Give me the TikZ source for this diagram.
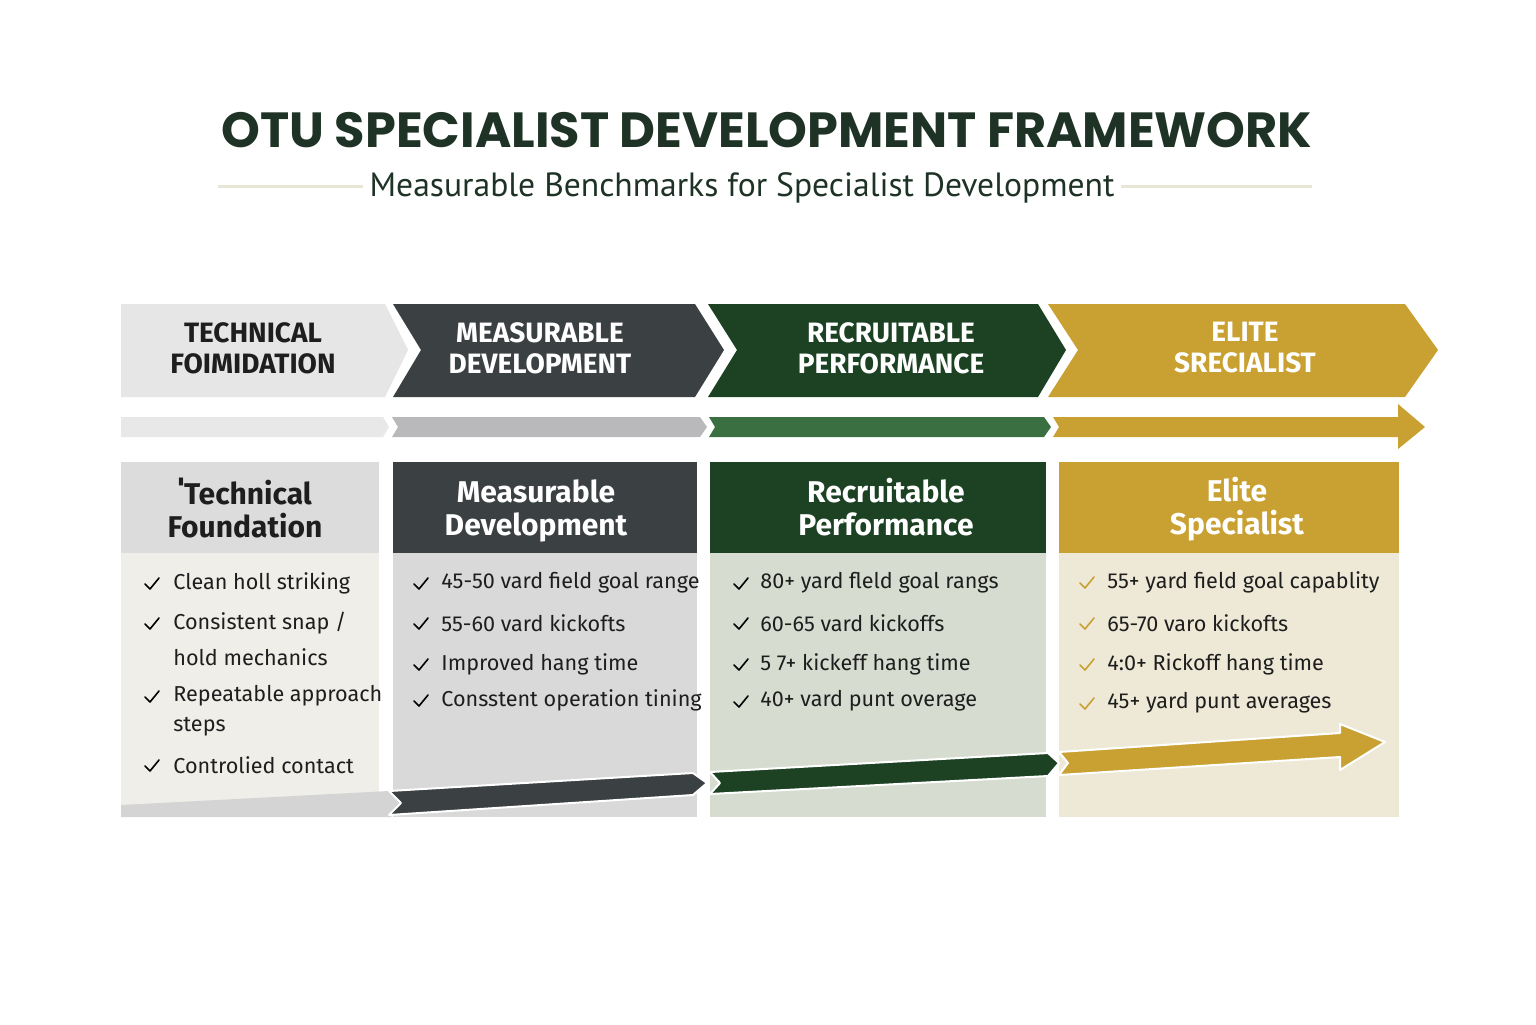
\documentclass[tikz,border=0pt]{standalone}
\usepackage{fontspec}
\setmainfont{Fira Sans}
\newfontfamily\titlefont{Poppins}
\newfontfamily\subfont{PT Sans}
\usepackage{xcolor}
\definecolor{titleink}{HTML}{1E3325}
\definecolor{slate}{HTML}{3B4042}
\definecolor{pine}{HTML}{1C4223}
\definecolor{gold}{HTML}{C9A032}
\definecolor{fog}{HTML}{E6E6E6}
\definecolor{barfog}{HTML}{E8E8E8}
\definecolor{bargray}{HTML}{B9B9BB}
\definecolor{bargreen}{HTML}{3A7041}
\definecolor{headfog}{HTML}{DCDCDC}
\definecolor{bodyfog}{HTML}{EFEEE9}
\definecolor{bodygray}{HTML}{D9D9D9}
\definecolor{bodysage}{HTML}{D6DDD0}
\definecolor{bodycream}{HTML}{EEE9D7}
\definecolor{bandfog}{HTML}{D4D4D4}
\definecolor{rule}{HTML}{E9E6D6}
\definecolor{ink}{HTML}{1E1E1E}

\begin{document}
\begin{tikzpicture}[x=0.5pt, y=-0.5pt,
    chevtext/.style={font=\bfseries\fontsize{14}{15.5}\selectfont, align=center},
    headtext/.style={font=\bfseries\fontsize{15}{16.5}\selectfont, align=center},
    item/.style={anchor=west, font=\fontsize{10.8}{13}\selectfont, text=ink, inner sep=0pt},
    ribbon/.style={draw=white, line width=1pt, line join=round},
    tick/.pic={\draw[line width=0.8pt, line cap=round, line join=round] (-7,0) -- (-2,5) -- (7,-6);}
    ]
    \useasboundingbox (0,0) rectangle (1536,1024);
    \fill[white] (0,0) rectangle (1536,1024);

    % title
    \node (title) at (767,130) {\titlefont\bfseries\fontsize{24.7}{28}\selectfont\color{titleink}OTU SPECIALIST DEVELOPMENT FRAMEWORK};
    \node (subtitle) at (742,188) {\subfont\fontsize{16.8}{20}\selectfont\color{titleink}Measurable Benchmarks for Specialist Development};
    \coordinate (rl) at (218,186);
    \coordinate (rr) at (1312,186);
    \draw[rule, line width=1.5pt] (rl) -- (subtitle.west |- rl);
    \draw[rule, line width=1.5pt] (subtitle.east |- rr) -- (rr);

    % top chevrons
    \fill[fog] (121,304) -- (385,304) -- (408,350) -- (385,397) -- (121,397) -- cycle;
    \fill[slate] (393,304) -- (695,304) -- (724,350) -- (695,397) -- (393,397) -- (421,350) -- cycle;
    \fill[pine] (708,304) -- (1038,304) -- (1066,350) -- (1038,397) -- (708,397) -- (737,350) -- cycle;
    \fill[gold] (1048,304) -- (1405,304) -- (1438,350) -- (1405,397) -- (1048,397) -- (1078,350) -- cycle;
    \node[chevtext, text=ink] (c1) at (253,348) {TECHNICAL\\FOIMIDATION};
    \node[chevtext, text=white] (c2) at (540,348) {MEASURABLE\\DEVELOPMENT};
    \node[chevtext, text=white] (c3) at (891,348) {RECRUITABLE\\PERFORMANCE};
    \node[chevtext, text=white] (c4) at (1245,348) {ELITE\\SRECIALIST};

    % progress bar
    \fill[barfog] (121,417) -- (383,417) -- (389,427) -- (383,437) -- (121,437) -- cycle;
    \fill[bargray] (392,417) -- (700,417) -- (707,427) -- (700,437) -- (392,437) -- (398,427) -- cycle;
    \fill[bargreen] (709,417) -- (1044,417) -- (1051,427) -- (1044,437) -- (709,437) -- (715,427) -- cycle;
    \fill[gold] (1053,417) -- (1398,417) -- (1398,404) -- (1425,427) -- (1398,449) -- (1398,437)
        -- (1053,437) -- (1059,427) -- cycle;

    % columns
    \fill[bodyfog] (121,553) rectangle (379,817);
    \fill[headfog] (121,462) rectangle (379,553);
    \fill[bodygray] (393,553) rectangle (697,817);
    \fill[slate] (393,462) rectangle (697,553);
    \fill[bodysage] (710,553) rectangle (1046,817);
    \fill[pine] (710,462) rectangle (1046,553);
    \fill[bodycream] (1059,553) rectangle (1399,817);
    \fill[gold] (1059,462) rectangle (1399,553);

    \node[headtext, text=ink] (h1) at (245,508) {ˈTechnical\\Foundation};
    \node[headtext, text=white] (h2) at (536,511) {Measurable\\Development};
    \node[headtext, text=white] (h3) at (886,507) {Recruitable\\Performance};
    \node[headtext, text=white] (h4) at (1237,509) {Elite\\Specialist};

    % checklist items
    \pic at (152,584) {tick};
    \node[item] (tf1) at (173,583) {Clean holl striking};
    \pic at (152,624) {tick};
    \node[item] (tf2) at (173,623) {Consistent snap /};
    \node[item] (tf3) at (173,657) {hold mechanics};
    \pic at (152,697) {tick};
    \node[item] (tf4) at (173,696) {Repeatable approach};
    \node[item] (tf5) at (173,727) {steps};
    \pic at (152,766) {tick};
    \node[item] (tf6) at (173,765) {Controlied contact};

    \pic at (421,584) {tick};
    \node[item] (md1) at (441,583) {45-50 vard field goal range};
    \pic at (421,624) {tick};
    \node[item] (md2) at (441,623) {55-60 vard kickofts};
    \pic at (421,665) {tick};
    \node[item] (md3) at (441,664) {Improved hang time};
    \pic at (421,701) {tick};
    \node[item] (md4) at (441,700) {Consstent operation tining};

    \pic at (741,584) {tick};
    \node[item] (rp1) at (760,583) {80+ yard fleld goal rangs};
    \pic at (741,624) {tick};
    \node[item] (rp2) at (760,623) {60-65 vard kickoffs};
    \pic at (741,665) {tick};
    \node[item] (rp3) at (760,664) {5 7+ kickeff hang time};
    \pic at (741,702) {tick};
    \node[item] (rp4) at (760,701) {40+ vard punt overage};

    \pic[color=gold] at (1087,583) {tick};
    \node[item] (es1) at (1107,582) {55+ yard field goal capablity};
    \pic[color=gold] at (1087,624) {tick};
    \node[item] (es2) at (1107,623) {65-70 varo kickofts};
    \pic[color=gold] at (1087,665) {tick};
    \node[item] (es3) at (1107,664) {4:0+ Rickoff hang time};
    \pic[color=gold] at (1087,704) {tick};
    \node[item] (es4) at (1107,703) {45+ yard punt averages};

    % bottom ribbons
    \fill[bandfog] (121,805) -- (389,791) -- (401,803) -- (391,817) -- (121,817) -- cycle;
    \filldraw[ribbon, fill=slate] (389,791) -- (693,773) -- (707,783) -- (693,795) -- (389,815) -- (401,803) -- cycle;
    \filldraw[ribbon, fill=pine] (710,772) -- (1048,753) -- (1059,763) -- (1048,776) -- (710,794) -- (720,783) -- cycle;
    \filldraw[ribbon, fill=gold] (1059,752) -- (1340,733) -- (1340,724) -- (1385,742) -- (1340,770) -- (1340,757)
        -- (1059,775) -- (1068,763) -- cycle;
\end{tikzpicture}
\end{document}
